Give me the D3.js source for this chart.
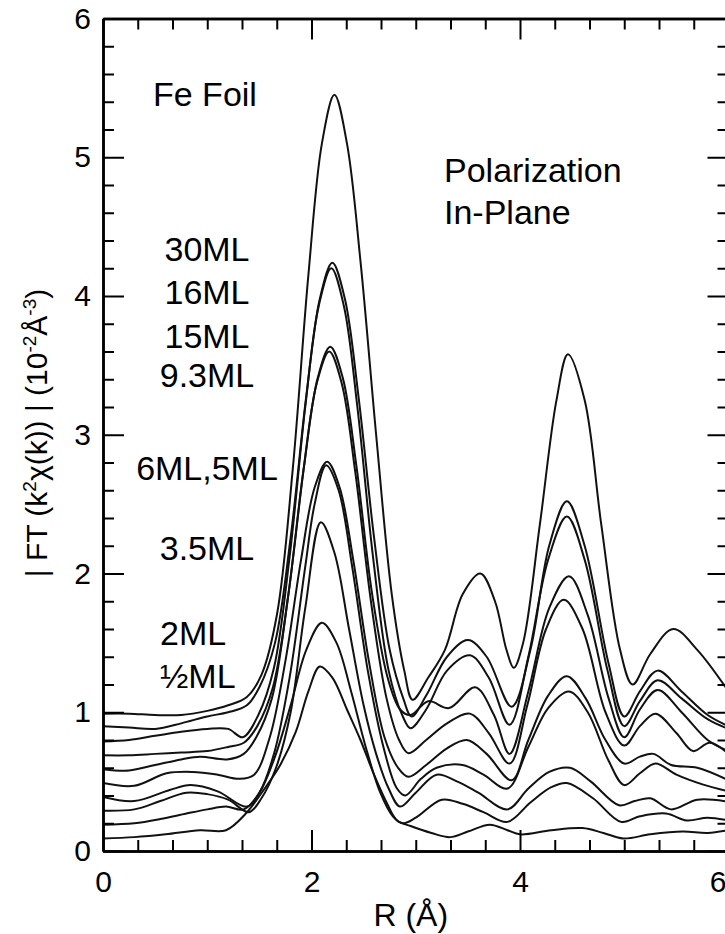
<!DOCTYPE html>
<html>
<head>
<meta charset="utf-8">
<script src="https://cdn.jsdelivr.net/npm/d3@7"></script>
<style>
  html, body { margin: 0; padding: 0; background: #fff; }
  svg { display: block; }
  text { font-family: "Liberation Sans", Arial, Helvetica, sans-serif; fill: #000; }
</style>
</head>
<body>
<svg id="chart" width="725" height="934"></svg>
<script>
// |FT(k^2 chi(k))| magnitude vs R for each Fe coverage, offset vertically.
// Each series: [R (Å), |FT| (10^-2 Å^-3)]
const feFoil = [[0,0.99],[0.25,0.99],[0.5,0.98],[0.75,0.98],[1.0,1.01],[1.2,1.05],[1.38,1.11],[1.52,1.27],[1.67,1.71],[1.82,2.75],[1.97,4.15],[2.10,5.1],[2.22,5.45],[2.34,5.1],[2.47,4.25],[2.62,3.0],[2.77,1.85],[2.89,1.3],[2.97,1.09],[3.12,1.25],[3.28,1.45],[3.45,1.85],[3.62,2.0],[3.76,1.8],[3.87,1.45],[3.94,1.32],[4.03,1.5],[4.19,2.35],[4.35,3.25],[4.46,3.58],[4.62,3.25],[4.78,2.35],[4.96,1.45],[5.08,1.2],[5.25,1.42],[5.47,1.6],[5.7,1.45],[6.0,1.15]];
const ml30 = [[0,0.9],[0.25,0.89],[0.5,0.88],[0.75,0.92],[1.0,0.97],[1.2,1.0],[1.38,1.05],[1.5,1.18],[1.65,1.5],[1.8,2.26],[1.95,3.28],[2.08,3.98],[2.20,4.24],[2.32,3.98],[2.45,3.28],[2.60,2.26],[2.75,1.45],[2.88,1.1],[2.96,0.97],[3.1,1.12],[3.3,1.4],[3.5,1.52],[3.68,1.4],[3.92,1.04],[4.1,1.45],[4.28,2.2],[4.45,2.52],[4.62,2.2],[4.85,1.35],[5.0,0.97],[5.15,1.15],[5.32,1.30],[5.55,1.15],[5.8,0.98],[6.0,0.9]];
const ml16 = [[0,0.79],[0.25,0.80],[0.5,0.83],[0.75,0.86],[1.0,0.88],[1.2,0.88],[1.34,0.82],[1.49,0.98],[1.64,1.32],[1.79,2.12],[1.94,3.2],[2.07,3.93],[2.19,4.20],[2.31,3.93],[2.44,3.2],[2.59,2.12],[2.74,1.3],[2.87,0.98],[2.95,0.885],[3.1,1.02],[3.3,1.3],[3.52,1.41],[3.7,1.25],[3.9,0.91],[4.08,1.4],[4.27,2.1],[4.45,2.41],[4.62,2.1],[4.84,1.3],[5.0,0.90],[5.15,1.08],[5.32,1.23],[5.55,1.1],[5.8,0.95],[6.0,0.88]];
const ml15 = [[0,0.69],[0.25,0.69],[0.5,0.70],[0.75,0.71],[1.0,0.72],[1.2,0.75],[1.35,0.78],[1.48,0.9],[1.63,1.18],[1.78,1.86],[1.93,2.78],[2.06,3.41],[2.18,3.635],[2.30,3.41],[2.43,2.78],[2.58,1.86],[2.73,1.25],[2.85,1.02],[2.95,0.98],[3.12,1.08],[3.32,1.03],[3.57,1.18],[3.75,0.98],[3.9,0.70],[4.08,1.15],[4.28,1.75],[4.47,1.98],[4.65,1.7],[4.85,1.1],[5.0,0.82],[5.15,1.02],[5.32,1.16],[5.55,1.0],[5.8,0.8],[6.0,0.72]];
const ml9_3 = [[0,0.59],[0.25,0.58],[0.5,0.62],[0.75,0.66],[0.93,0.68],[1.19,0.66],[1.35,0.70],[1.47,0.82],[1.62,1.1],[1.77,1.8],[1.92,2.73],[2.05,3.37],[2.17,3.60],[2.29,3.37],[2.42,2.73],[2.57,1.8],[2.72,1.1],[2.84,0.8],[2.93,0.705],[3.1,0.8],[3.3,0.92],[3.52,0.99],[3.7,0.85],[3.9,0.63],[4.07,1.05],[4.25,1.6],[4.42,1.81],[4.6,1.6],[4.82,1.0],[5.0,0.76],[5.15,0.9],[5.3,0.99],[5.5,0.85],[5.66,0.72],[5.82,0.78],[6.0,0.70]];
const ml6 = [[0,0.49],[0.3,0.47],[0.61,0.56],[0.86,0.57],[1.1,0.55],[1.31,0.52],[1.45,0.55],[1.6,0.82],[1.75,1.37],[1.9,2.1],[2.03,2.62],[2.15,2.806],[2.27,2.62],[2.4,2.1],[2.55,1.37],[2.7,0.82],[2.83,0.6],[2.93,0.535],[3.1,0.62],[3.3,0.74],[3.49,0.80],[3.68,0.7],[3.92,0.51],[4.08,0.8],[4.27,1.12],[4.45,1.26],[4.63,1.1],[4.82,0.8],[5.0,0.63],[5.15,0.68],[5.28,0.70],[5.45,0.62],[5.7,0.6],[6.0,0.51]];
const ml5 = [[0,0.39],[0.3,0.36],[0.64,0.44],[0.84,0.475],[1.1,0.43],[1.38,0.32],[1.5,0.42],[1.64,0.7],[1.79,1.25],[1.94,2.05],[2.03,2.5],[2.14,2.78],[2.26,2.6],[2.39,2.05],[2.54,1.3],[2.69,0.75],[2.82,0.45],[2.9,0.4],[3.05,0.52],[3.2,0.6],[3.45,0.62],[3.65,0.55],[3.88,0.45],[4.08,0.75],[4.27,1.03],[4.47,1.15],[4.65,1.0],[4.85,0.65],[5.0,0.475],[5.15,0.56],[5.3,0.63],[5.5,0.55],[5.75,0.48],[6.0,0.43]];
const ml3_5 = [[0,0.29],[0.3,0.30],[0.55,0.36],[0.8,0.42],[1.0,0.41],[1.2,0.37],[1.4,0.28],[1.52,0.38],[1.66,0.6],[1.8,1.0],[1.94,1.75],[2.09,2.37],[2.22,2.15],[2.36,1.6],[2.5,1.05],[2.62,0.7],[2.74,0.45],[2.85,0.32],[3.0,0.42],[3.2,0.55],[3.4,0.5],[3.6,0.42],[3.88,0.30],[4.08,0.45],[4.28,0.57],[4.48,0.60],[4.68,0.5],[4.95,0.33],[5.1,0.36],[5.25,0.38],[5.45,0.3],[5.7,0.37],[6.0,0.355]];
const ml2 = [[0,0.19],[0.3,0.2],[0.55,0.23],[0.8,0.27],[1.0,0.30],[1.18,0.32],[1.35,0.30],[1.5,0.42],[1.65,0.68],[1.8,1.05],[1.95,1.45],[2.1,1.645],[2.24,1.5],[2.38,1.15],[2.52,0.75],[2.66,0.42],[2.78,0.25],[2.88,0.2],[3.0,0.24],[3.25,0.37],[3.45,0.34],[3.65,0.28],[3.88,0.21],[4.1,0.35],[4.3,0.46],[4.45,0.49],[4.7,0.38],[4.97,0.21],[5.15,0.25],[5.4,0.27],[5.6,0.22],[5.8,0.24],[6.0,0.22]];
const mlHalf = [[0,0.09],[0.3,0.10],[0.6,0.12],[0.93,0.15],[1.18,0.15],[1.37,0.27],[1.55,0.45],[1.7,0.62],[1.85,0.86],[1.97,1.15],[2.08,1.33],[2.2,1.25],[2.34,1.02],[2.47,0.8],[2.6,0.55],[2.72,0.35],[2.82,0.22],[2.95,0.18],[3.15,0.13],[3.33,0.1],[3.5,0.14],[3.71,0.19],[3.88,0.15],[4.0,0.12],[4.3,0.15],[4.6,0.165],[4.8,0.13],[4.99,0.09],[5.25,0.12],[5.56,0.14],[5.8,0.13],[6.0,0.15]];

const allSeries = [feFoil, ml30, ml16, ml15, ml9_3, ml6, ml5, ml3_5, ml2, mlHalf];

// Axis ticks
const xMajor = [0, 2, 4, 6];
const xMinor = [1/3, 2/3, 1, 4/3, 5/3, 7/3, 8/3, 3, 10/3, 11/3, 13/3, 14/3, 5, 16/3, 17/3];
const yMajor = [0, 1, 2, 3, 4, 5, 6];
const yMinor = d3.range(0, 30).map(i => i * 0.2).filter(v => Math.abs(v - Math.round(v)) > 1e-6);

// Annotation texts
const coverageLabels = ["30ML", "16ML", "15ML", "9.3ML", "6ML,5ML", "3.5ML"];
const lowLabels = ["2ML", "\u00BDML"];

const svg = d3.select("#chart");
const W = 725, H = 934;
const plot = { left: 103, right: 728.5, top: 18.5, bottom: 851 };

const x = d3.scaleLinear().domain([0, 6]).range([plot.left, plot.right]);
const y = d3.scaleLinear().domain([0, 6]).range([plot.bottom, plot.top]);

svg.append("rect").attr("width", W).attr("height", H).attr("fill", "#fff");

svg.append("defs").append("clipPath").attr("id", "plotClip")
  .append("rect")
  .attr("x", plot.left).attr("y", plot.top)
  .attr("width", plot.right - plot.left).attr("height", plot.bottom - plot.top);

// Curves
const line = d3.line()
  .x(d => x(d[0]))
  .y(d => y(d[1]))
  .curve(d3.curveCatmullRom.alpha(0.5));

svg.append("g").attr("clip-path", "url(#plotClip)")
  .selectAll("path").data(allSeries).join("path")
  .attr("d", line)
  .attr("fill", "none")
  .attr("stroke", "#111")
  .attr("stroke-width", 2);

// Axes with inward ticks
const MAJ = 21, MIN = 11;
function styleAxis(g) {
  g.select(".domain").attr("stroke", "#000").attr("stroke-width", 2.5);
  g.selectAll(".tick line").attr("stroke", "#000").attr("stroke-width", 2);
  g.selectAll(".tick text").attr("font-size", 30).attr("fill", "#000")
    .attr("font-family", "'Liberation Sans', Arial, sans-serif");
}

// bottom
svg.append("g").attr("transform", `translate(0,${plot.bottom})`)
  .call(d3.axisBottom(x).tickValues(xMinor).tickSize(-MIN).tickSizeOuter(0).tickFormat(""))
  .call(styleAxis);
const xAxisMajor = svg.append("g").attr("transform", `translate(0,${plot.bottom})`)
  .call(d3.axisBottom(x).tickValues(xMajor).tickSize(-MAJ).tickSizeOuter(0).tickPadding(20).tickFormat(d3.format("d")))
  .call(styleAxis);
// the last label sits just inside the page edge
xAxisMajor.selectAll(".tick text").filter(d => d === 6).attr("dx", -11);
// top
svg.append("g").attr("transform", `translate(0,${plot.top})`)
  .call(d3.axisTop(x).tickValues(xMinor).tickSize(-MIN).tickSizeOuter(0).tickFormat(""))
  .call(styleAxis);
svg.append("g").attr("transform", `translate(0,${plot.top})`)
  .call(d3.axisTop(x).tickValues(xMajor).tickSize(-MAJ).tickSizeOuter(0).tickFormat(""))
  .call(styleAxis);
// left
svg.append("g").attr("transform", `translate(${plot.left},0)`)
  .call(d3.axisLeft(y).tickValues(yMinor).tickSize(-MIN).tickSizeOuter(0).tickFormat(""))
  .call(styleAxis);
svg.append("g").attr("transform", `translate(${plot.left},0)`)
  .call(d3.axisLeft(y).tickValues(yMajor).tickSize(-MAJ).tickSizeOuter(0).tickPadding(12).tickFormat(d3.format("d")))
  .call(styleAxis);
// right
svg.append("g").attr("transform", `translate(${plot.right},0)`)
  .call(d3.axisRight(y).tickValues(yMinor).tickSize(-MIN).tickSizeOuter(0).tickFormat(""))
  .call(styleAxis);
svg.append("g").attr("transform", `translate(${plot.right},0)`)
  .call(d3.axisRight(y).tickValues(yMajor).tickSize(-MAJ).tickSizeOuter(0).tickFormat(""))
  .call(styleAxis);

// Axis titles
svg.append("text")
  .attr("x", (plot.left + plot.right) / 2 - 5)
  .attr("y", 926)
  .attr("text-anchor", "middle")
  .attr("font-size", 32)
  .text("R (\u00C5)");

const yTitle = svg.append("text")
  .attr("transform", "translate(47,433) rotate(-90)")
  .attr("text-anchor", "middle")
  .attr("font-size", 30);
yTitle.append("tspan").text("| FT (k");
yTitle.append("tspan").attr("font-size", 19).attr("dy", -11).text("2");
yTitle.append("tspan").attr("dy", 11).text("\u03C7(k)) |  (10");
yTitle.append("tspan").attr("font-size", 19).attr("dy", -11).text("-2");
yTitle.append("tspan").attr("dy", 11).text("\u00C5");
yTitle.append("tspan").attr("font-size", 19).attr("dy", -11).text("-3");
yTitle.append("tspan").attr("dy", 11).text(")");

// Annotations
const FS = 34;
svg.append("text").attr("x", 153).attr("y", 106).attr("font-size", FS).text("Fe Foil");
svg.append("text").attr("x", 444).attr("y", 182).attr("font-size", FS).text("Polarization");
svg.append("text").attr("x", 444).attr("y", 224).attr("font-size", FS).text("In-Plane");

const labelY = [261, 304, 348, 387, 480, 560];
svg.append("g").selectAll("text").data(coverageLabels).join("text")
  .attr("x", 207)
  .attr("y", (d, i) => labelY[i])
  .attr("text-anchor", "middle")
  .attr("font-size", FS)
  .text(d => d);

const lowY = [645, 688];
svg.append("g").selectAll("text").data(lowLabels).join("text")
  .attr("x", 160)
  .attr("y", (d, i) => lowY[i])
  .attr("font-size", FS)
  .text(d => d);
</script>
</body>
</html>
